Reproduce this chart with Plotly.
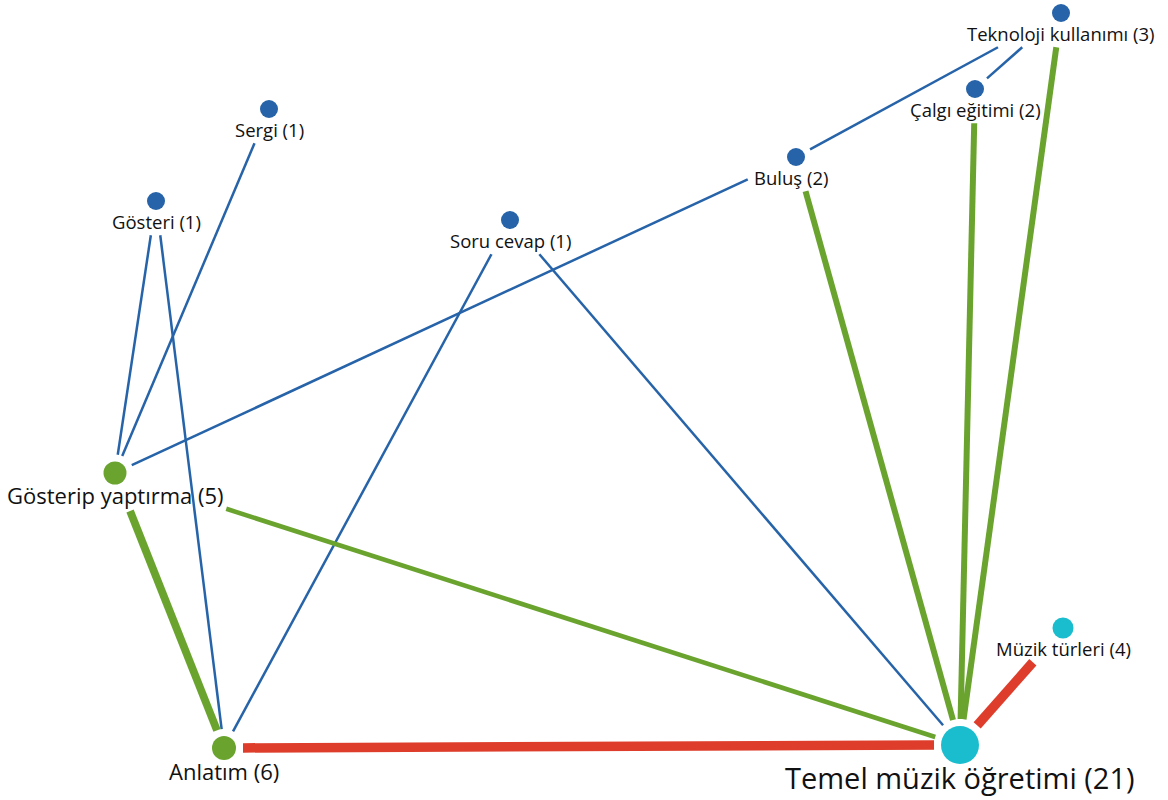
import math
import plotly.graph_objects as go

# ---------------- data ----------------
node_names = ["Temel müzik öğretimi", "Anlatım", "Gösterip yaptırma", "Müzik türleri",
              "Teknoloji kullanımı", "Buluş", "Çalgı eğitimi", "Sergi", "Gösteri", "Soru cevap"]
node_counts = [21, 6, 5, 4, 3, 2, 2, 1, 1, 1]
node_group = ["core", "method", "method", "core", "minor", "minor", "minor", "minor", "minor", "minor"]
# network layout coordinates (canvas units, y downward)
node_x = [960, 224, 115, 1063, 1061, 796, 975, 269, 156, 510]
node_y = [745, 748, 473, 628, 13, 157, 89, 109, 201, 220]

edge_source = ["Sergi", "Gösteri", "Gösteri", "Soru cevap", "Soru cevap", "Buluş", "Buluş",
               "Çalgı eğitimi", "Buluş", "Çalgı eğitimi", "Teknoloji kullanımı",
               "Gösterip yaptırma", "Gösterip yaptırma", "Anlatım", "Müzik türleri"]
edge_target = ["Gösterip yaptırma", "Gösterip yaptırma", "Anlatım", "Anlatım",
               "Temel müzik öğretimi", "Gösterip yaptırma", "Teknoloji kullanımı",
               "Teknoloji kullanımı", "Temel müzik öğretimi", "Temel müzik öğretimi",
               "Temel müzik öğretimi", "Temel müzik öğretimi", "Anlatım",
               "Temel müzik öğretimi", "Temel müzik öğretimi"]
edge_weight = [1, 1, 1, 1, 1, 1, 1, 1, 3, 3, 3, 2, 4, 5, 5]

# ---------------- styles ----------------
group_color = {"core": "#19BDCE", "method": "#6AA42F", "minor": "#2663A8"}
node_size = {"Temel müzik öğretimi": 38, "Anlatım": 24, "Gösterip yaptırma": 23,
             "Müzik türleri": 21}
default_size = 18
label_font = {"Temel müzik öğretimi": 29, "Anlatım": 22, "Gösterip yaptırma": 22}
default_font = 18.5
label_offset = {"Temel müzik öğretimi": (0, 32), "Anlatım": (0, 23),
                "Gösterip yaptırma": (0, 22), "Buluş": (-5, 20)}
default_offset = (0, 20)

weight_width = {1: 2.5, 2: 4.6, 3: 6.0, 4: 7.8, 5: 9.5}
def weight_color(w):
    if w >= 5:
        return "#DD3D2A"
    if w >= 2:
        return "#6AA42F"
    return "#2663A8"

FONT = "Open Sans"
W, H = 1168, 800
CHAR_W = 0.46

idx = {n: i for i, n in enumerate(node_names)}

def label_text(i):
    return f"{node_names[i]} ({node_counts[i]})"

def clearance_exit(i, dx, dy):
    """distance along unit direction (dx,dy) from node i where the edge leaves
    the node's dot + label clearance zone"""
    name = node_names[i]
    r = node_size.get(name, default_size) / 2 + 7
    fs = label_font.get(name, default_font)
    ox, oy = label_offset.get(name, default_offset)
    hw = len(label_text(i)) * fs * CHAR_W / 2 + 5
    hh = fs * 0.5 + 5
    cx, cy = node_x[i] + ox, node_y[i] + oy
    lo, hi = 0.0, 1e9
    for p, d, c, h in ((node_x[i], dx, cx, hw), (node_y[i], dy, cy, hh)):
        a, b = c - h, c + h
        if abs(d) < 1e-9:
            if p < a or p > b:
                return r
            continue
        t1, t2 = (a - p) / d, (b - p) / d
        lo, hi = max(lo, min(t1, t2)), min(hi, max(t1, t2))
    if lo <= hi and lo <= r + 10:
        return max(r, hi)
    return r

fig = go.Figure()

for s, t, w in zip(edge_source, edge_target, edge_weight):
    a, b = idx[s], idx[t]
    vx, vy = node_x[b] - node_x[a], node_y[b] - node_y[a]
    L = math.hypot(vx, vy)
    ux, uy = vx / L, vy / L
    ta = clearance_exit(a, ux, uy)
    tb = clearance_exit(b, -ux, -uy)
    fig.add_trace(go.Scatter(
        x=[node_x[a] + ux * ta, node_x[b] - ux * tb],
        y=[node_y[a] + uy * ta, node_y[b] - uy * tb],
        mode="lines", line=dict(color=weight_color(w), width=weight_width[w]),
        hoverinfo="skip", showlegend=False))

fig.add_trace(go.Scatter(
    x=node_x, y=node_y, mode="markers",
    marker=dict(size=[node_size.get(n, default_size) for n in node_names],
                color=[group_color[g] for g in node_group], opacity=1,
                line=dict(width=0)),
    text=[label_text(i) for i in range(len(node_names))], hoverinfo="text",
    showlegend=False))

for i, n in enumerate(node_names):
    ox, oy = label_offset.get(n, default_offset)
    fig.add_annotation(x=node_x[i] + ox, y=node_y[i] + oy, text=label_text(i),
                       showarrow=False, xanchor="center", yanchor="middle",
                       font=dict(family=FONT, size=label_font.get(n, default_font), color="#111111"))

fig.update_layout(
    width=W, height=H, margin=dict(l=0, r=0, t=0, b=0),
    paper_bgcolor="white", plot_bgcolor="white",
    xaxis=dict(range=[0, W], visible=False, fixedrange=True),
    yaxis=dict(range=[H, 0], visible=False, fixedrange=True),
)

fig.write_html("out.html", config={"displayModeBar": False},
               post_script="document.body.style.margin='0px';document.body.style.overflow='hidden';")
